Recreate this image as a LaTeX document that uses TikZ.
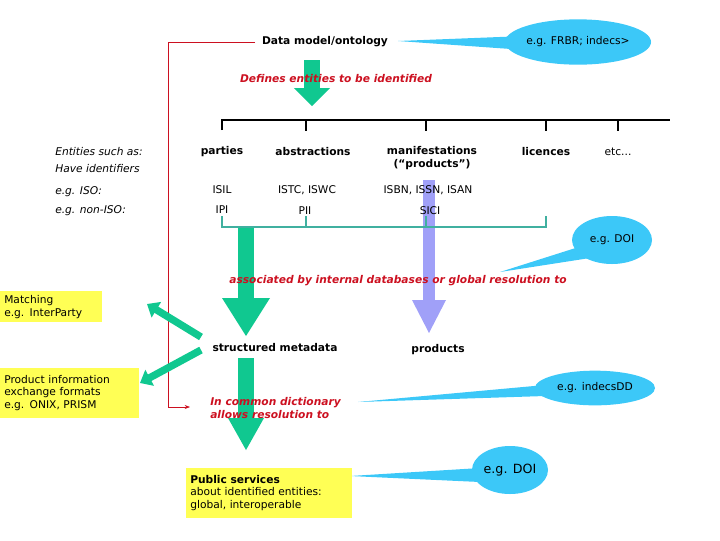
\documentclass[tikz,border=0pt]{standalone}
\usepackage{fontspec}
\setmainfont{DejaVu Sans}
\usetikzlibrary{arrows.meta,shapes.geometric}
\definecolor{tl}{HTML}{10C890}
\definecolor{bub}{HTML}{3CC8F8}
\definecolor{yel}{HTML}{FFFF55}
\definecolor{pur}{HTML}{A0A0F8}
\definecolor{rd}{HTML}{CC1020}
\definecolor{tline}{HTML}{40B0A0}
\tikzset{
 txt/.style={font=\fontsize{8}{9.5}\selectfont, inner sep=0pt},
 btxt/.style={txt, font=\fontsize{8}{9.5}\selectfont\bfseries},
 rtxt/.style={txt, text=rd, font=\fontsize{8}{9.5}\selectfont\bfseries\itshape},
 itxt/.style={txt, font=\fontsize{8}{9.5}\selectfont\itshape},
 ybox/.style={fill=yel, txt, align=left, anchor=north west, inner sep=3pt},
 bubble/.style={fill=bub, ellipse, txt},
 fat/.style={draw=tl, line width=#1, -{Triangle[width=2.4*#1,length=1.5*#1]}},
}
\begin{document}
\begin{tikzpicture}[x=0.75pt,y=-0.75pt]
\useasboundingbox (0,0) rectangle (720,540);
% bubbles with pointers
\fill[bub] (398,41) -- (525,36) -- (525,50) -- cycle;
\node[bubble, minimum width=97pt, minimum height=34pt] (frbr) at (578,42) {e.g. FRBR; indecs>};
\node[btxt] (dm) at (325,42) {Data model/ontology};
\fill[bub] (500,272) -- (585,245) -- (590,258) -- cycle;
\node[bubble, minimum width=60pt, minimum height=36pt] (doi1) at (612,240) {e.g. DOI};
\fill[bub] (358,402) -- (545,385) -- (545,396) -- cycle;
\node[bubble, minimum width=90pt, minimum height=26pt] (idd) at (595,388) {e.g. indecsDD};
\fill[bub] (350,476) -- (480,468) -- (480,482) -- cycle;
\node[bubble, minimum width=57pt, minimum height=36pt,font=\fontsize{9.5}{11}\selectfont] (doi2) at (510,470) {e.g. DOI};
% red connector
\coordinate (rc) at (190,407);
\draw[rd] (255,42) -- (168,42) -- (168,407) edge[-{Stealth[length=4pt]}] (rc);
% top arrow
\coordinate (t1) at (312,60); \coordinate (t2) at (312,106);
\draw[line width=12pt, draw=tl] (t1) -- (312,88);
\fill[tl] (294,88) -- (330,88) -- (t2) -- cycle;
\node[rtxt] (def) at (336,79) {Defines entities to be identified};
% black tree
\draw[line width=0.9pt] (222,130) -- (222,120) -- (670,120);
\foreach \x in {306,426,546,618} \draw[line width=0.9pt] (\x,120) -- (\x,131);
% purple arrow
\draw[line width=9pt, draw=pur] (429,180) -- (429,302);
\fill[pur] (412,300) -- (446,300) -- (429,333) -- cycle;
% labels
\node[itxt,anchor=west] (e1) at (55,152) {Entities such as:};
\node[itxt,anchor=west] (e2) at (55,169) {Have identifiers};
\node[itxt,anchor=west] (e3) at (55,192) {e.g. ISO:};
\node[itxt,anchor=west] (e4) at (55,211) {e.g. non-ISO:};
\node[btxt] (p) at (222,152) {parties};
\node[btxt] (ab) at (313,152) {abstractions};
\node[btxt,align=center] (man) at (432,158) {manifestations\\(“products”)};
\node[btxt] (lic) at (546,152) {licences};
\node[txt] (etc) at (618,152) {etc...};
\node[txt] (isil) at (222,190) {ISIL};
\node[txt] (ipi) at (222,210) {IPI};
\node[txt] (istc) at (307,190) {ISTC, ISWC};
\node[txt] (pii) at (305,211) {PII};
\node[txt] (isbn) at (428,190) {ISBN, ISSN, ISAN};
\node[txt] (sici) at (430,211) {SICI};
% teal bracket
\draw[tline, line width=0.9pt] (222,216) -- (222,227) -- (546,227) -- (546,216);
\foreach \x in {306,426} \draw[tline,line width=0.9pt] (\x,216) -- (\x,227);
% green arrows
\draw[line width=12pt, draw=tl] (246,228) -- (246,300);
\fill[tl] (222,298) -- (270,298) -- (246,336) -- cycle;
\node[rtxt] (assoc) at (398,281) {associated by internal databases or global resolution to};
\node[btxt] (sm) at (275,348) {structured metadata};
\node[btxt] (prod) at (438,350) {products};
\draw[line width=12pt, draw=tl] (246,358) -- (246,420);
\fill[tl] (228,418) -- (264,418) -- (246,450) -- cycle;
\node[rtxt,align=left,anchor=west] (cd) at (210,408) {In common dictionary\\allows resolution to};
\node[ybox, minimum width=124pt, minimum height=37pt, text width=118pt] (ps) at (186,468)
 {\textbf{Public services}\\about identified entities:\\global, interoperable};
% yellow left boxes
\node[ybox, minimum width=75pt, minimum height=23pt, text width=70pt] (mat) at (0,291) {Matching\\e.g. InterParty};
\node[ybox, minimum width=103pt, minimum height=37pt, text width=98pt] (pie) at (0,368) {Product information\\exchange formats\\e.g. ONIX, PRISM};
\coordinate (m1) at (201,337); \coordinate (m2) at (147,304);
\coordinate (p1) at (201,350); \coordinate (p2) at (140,383);
\draw[fat=5.5pt] (m1) -- (m2);
\draw[fat=5.5pt] (p1) -- (p2);
\end{tikzpicture}
\end{document}
